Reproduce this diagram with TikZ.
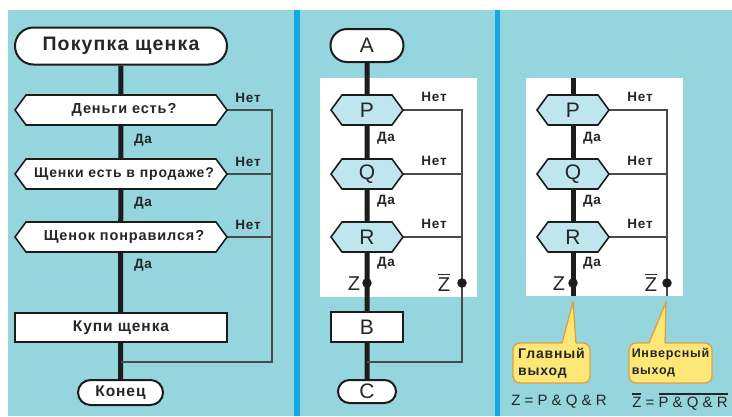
\documentclass[tikz,border=0pt]{standalone}
\usepackage{fontspec}
\setmainfont{Liberation Sans}
\newfontfamily\lsfont[LetterSpace=6]{Liberation Sans}
\usetikzlibrary{shapes.misc}
\pgfdeclarelayer{back}
\pgfdeclarelayer{lines}
\pgfsetlayers{back,lines,main}
\definecolor{panelteal}{HTML}{94D5DE}
\definecolor{sepblue}{HTML}{12A9E2}
\definecolor{hexfill}{HTML}{BFE6EF}
\definecolor{ink}{HTML}{1C1C1C}
\definecolor{thinink}{HTML}{4A4A4A}
\definecolor{txt}{HTML}{262626}
\definecolor{callfill}{HTML}{FDE877}
\definecolor{callborder}{HTML}{E0A040}
\newcommand\ovl[1]{\leavevmode\vbox{\hrule height 1.6pt\kern 2.5pt\hbox{#1}}}
\newcommand\hexnode[6]{%
  \filldraw[hexline,fill=#5] ({#2-#4},#3) -- ({#2-#4+11},{#3-15}) -- ({#2+#4-11},{#3-15}) -- ({#2+#4},#3) -- ({#2+#4-11},{#3+15}) -- ({#2-#4+11},{#3+15}) -- cycle;
  \node[hexbox,minimum width={2*#4}] (#1) at (#2,#3) {#6};
}
\begin{document}
\begin{tikzpicture}[x=1pt,y=-1pt,
  hexline/.style={draw=ink,line width=1.6pt,line join=miter},
  hexbox/.style={inner sep=0pt,minimum height=30pt,text=txt},
  letterfont/.style={font=\fontsize{21}{24}\selectfont},
  term/.style={rounded rectangle,draw=ink,line width=2pt,fill=white,inner sep=0pt,text=txt},
  actbox/.style={rectangle,draw=ink,line width=1.6pt,fill=white,inner sep=0pt,text=txt},
  lbl/.style={inner sep=0pt,text=txt,font=\lsfont\bfseries\fontsize{13.5}{15}\selectfont},
  zlbl/.style={inner sep=0pt,text=txt,font=\fontsize{20}{22}\selectfont},
  mainline/.style={draw=ink,line width=5pt},
  thinline/.style={draw=thinink,line width=1.6pt},
  dot/.style={circle,fill=ink,inner sep=0pt,minimum size=9.5pt},
  callbox/.style={rectangle,rounded corners=7pt,draw=callborder,line width=1.3pt,fill=callfill,minimum height=40pt,align=left,inner sep=0pt,text=txt},
  formula/.style={inner sep=0pt,text=txt,font=\fontsize{15}{17}\selectfont}
]
\useasboundingbox (0,0) rectangle (732,416);
\begin{pgfonlayer}{back}
  \fill[white] (0,0) rectangle (732,416);
  \fill[panelteal] (8,10) rectangle (732,416);
  \fill[sepblue] (294,10) rectangle (300,416);
  \fill[sepblue] (495,10) rectangle (500,416);
  \fill[white] (320,78) rectangle (477,297);
  \fill[white] (526,78) rectangle (683,296);
\end{pgfonlayer}

% ---------- Panel 1 ----------
\node[term,minimum width=212pt,minimum height=37pt,font=\lsfont\bfseries\fontsize{19.5}{22}\selectfont] (start) at (121,46) {Покупка щенка};
\hexnode{h1}{121}{110}{106}{white}{\lsfont\bfseries\fontsize{14.5}{16}\selectfont\hspace*{6pt}Деньги есть?}
\hexnode{h2}{121}{174}{106}{white}{\lsfont\bfseries\fontsize{14}{16}\selectfont\hspace*{6pt}Щенки есть в продаже?}
\hexnode{h3}{121}{237}{106}{white}{\lsfont\bfseries\fontsize{14.5}{16}\selectfont\hspace*{6pt}Щенок понравился?}
\node[actbox,minimum width=212pt,minimum height=29pt,font=\lsfont\bfseries\fontsize{15.5}{17}\selectfont] (buy) at (121,327.5) {Купи щенка};
\node[term,minimum width=85pt,minimum height=25pt,font=\lsfont\bfseries\fontsize{15.5}{17}\selectfont] (fin) at (120.5,392.5) {Конец};
\node[lbl] (n1) at (248,98) {Нет};
\node[lbl] (n2) at (248,162) {Нет};
\node[lbl] (n3) at (248,225) {Нет};
\node[lbl] (d1) at (143,140) {Да};
\node[lbl] (d2) at (143,203) {Да};
\node[lbl] (d3) at (143,265) {Да};
\coordinate (j1r) at (272,362);
\coordinate (j1l) at (121,362);
\begin{pgfonlayer}{lines}
  \draw[mainline] (start) -- (fin);
  \draw[thinline] (h1.east) -| (j1r) -- (j1l);
  \draw[thinline] (h2.east) -- (h2.east -| j1r);
  \draw[thinline] (h3.east) -- (h3.east -| j1r);
\end{pgfonlayer}

% ---------- Panel 2 ----------
\node[term,minimum width=73pt,minimum height=33pt,letterfont] (a2) at (367,45.5) {A};
\hexnode{p2}{367}{110}{36}{hexfill}{\fontsize{21}{24}\selectfont P}
\hexnode{q2}{367}{174}{36}{hexfill}{\fontsize{21}{24}\selectfont Q}
\hexnode{r2}{367}{237}{36}{hexfill}{\fontsize{21}{24}\selectfont R}
\node[actbox,minimum width=72pt,minimum height=30pt,letterfont] (b2) at (367,327) {B};
\node[term,minimum width=58pt,minimum height=23pt,letterfont] (c2) at (367,391.5) {C};
\node[lbl] (n21) at (434,97) {Нет};
\node[lbl] (n22) at (434,161) {Нет};
\node[lbl] (n23) at (434,224) {Нет};
\node[lbl] (d21) at (386,138) {Да};
\node[lbl] (d22) at (386,201) {Да};
\node[lbl] (d23) at (386,263) {Да};
\node[dot] (z2) at (367,283) {};
\node[dot] (zb2) at (462,283) {};
\node[zlbl] (z2l) at (354,284) {Z};
\node[zlbl,anchor=base] (zb2l) at (444,291.5) {\ovl{Z}};
\coordinate (j2r) at (462,362);
\coordinate (j2l) at (367,362);
\begin{pgfonlayer}{lines}
  \draw[mainline] (a2) -- (c2);
  \draw[thinline] (p2.east) -| (j2r) -- (j2l);
  \draw[thinline] (q2.east) -- (q2.east -| j2r);
  \draw[thinline] (r2.east) -- (r2.east -| j2r);
\end{pgfonlayer}

% ---------- Panel 3 ----------
\hexnode{p3}{573}{110}{36}{hexfill}{\fontsize{21}{24}\selectfont P}
\hexnode{q3}{573}{174}{36}{hexfill}{\fontsize{21}{24}\selectfont Q}
\hexnode{r3}{573}{237}{36}{hexfill}{\fontsize{21}{24}\selectfont R}
\node[lbl] (n31) at (640,97) {Нет};
\node[lbl] (n32) at (640,161) {Нет};
\node[lbl] (n33) at (640,224) {Нет};
\node[lbl] (d31) at (592,138) {Да};
\node[lbl] (d32) at (592,201) {Да};
\node[lbl] (d33) at (592,263) {Да};
\node[dot] (z3) at (573,283) {};
\node[dot] (zb3) at (667,283) {};
\node[zlbl] (z3l) at (559,284) {Z};
\node[zlbl,anchor=base] (zb3l) at (651,291.5) {\ovl{Z}};
\coordinate (t3) at (573,78);
\coordinate (e3l) at (573,296);
\coordinate (e3r) at (667,296);
\begin{pgfonlayer}{lines}
  \draw[mainline] (t3) -- (e3l);
  \draw[thinline] (p3.east) -| (e3r);
  \draw[thinline] (q3.east) -- (q3.east -| e3r);
  \draw[thinline] (r3.east) -- (r3.east -| e3r);
\end{pgfonlayer}

% callouts
\node[callbox,minimum width=77pt,font=\lsfont\bfseries\fontsize{14}{17}\selectfont] (cb1) at (551.5,363) {Главный\\выход};
\node[callbox,minimum width=83pt,font=\lsfont\bfseries\fontsize{12.5}{17}\selectfont] (cb2) at (670.5,363) {Инверсный\\выход};
\coordinate (tip1) at (573,302);
\coordinate (tip2) at (666,302);
\fill[callfill] (562,344) -- (tip1) -- (576,344) -- cycle;
\draw[callborder,line width=1.3pt,line join=round] (562,343.2) -- (tip1) -- (576,343.2);
\fill[callfill] (649,344) -- (tip2) -- (665,344) -- cycle;
\draw[callborder,line width=1.3pt,line join=round] (649,343.2) -- (tip2) -- (665,343.2);

% formulas
\node[formula] (f1) at (559,402) {Z = P \& Q \& R};
\node[formula,anchor=base] (f2) at (680,407.5) {\ovl{Z} = \ovl{P \& Q \& R}};
\end{tikzpicture}
\end{document}
